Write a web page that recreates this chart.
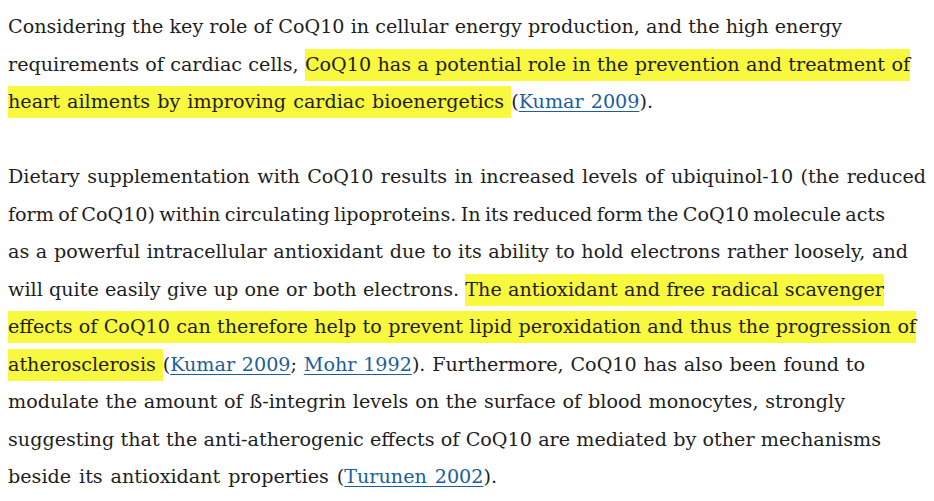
<!DOCTYPE html>
<html>
<head>
<meta charset="utf-8">
<script src="https://cdn.jsdelivr.net/npm/chart.js"></script>
<style>
  html, body { margin: 0; padding: 0; background: #fff; }
  body { width: 934px; height: 501px; overflow: hidden; position: relative; }
  #text { position: absolute; left: 8px; top: 8px; font-family: 'DejaVu Serif', serif; font-size: 18px; line-height: 37.5px; color: #1e1e1e; white-space: nowrap; }
  #text div { display: block; }
  .hl { background: #f8f83e; padding: 4px 0 5px 0; }
  a { color: #1b5e99; text-decoration: underline; text-underline-offset: 3px; }
  .gap { height: 37.5px; }
</style>
</head>
<body>
<div id="text"></div>
<script>
// text lines, in order; parts are [kind, text]
const para1 = [
  [['t', 'Considering the key role of CoQ10 in cellular energy production, and the high energy']],
  [['t', 'requirements of cardiac cells, '], ['h', 'CoQ10 has a potential role in the prevention and treatment of']],
  [['h', 'heart ailments by improving cardiac bioenergetics '], ['t', '('], ['a', 'Kumar 2009'], ['t', ').']]
]
const para2 = [
  [['t', 'Dietary supplementation with CoQ10 results in increased levels of ubiquinol-10 (the reduced']],
  [['t', 'form of CoQ10) within circulating lipoproteins. In its reduced form the CoQ10 molecule acts']],
  [['t', 'as a powerful intracellular antioxidant due to its ability to hold electrons rather loosely, and']],
  [['t', 'will quite easily give up one or both electrons. '], ['h', 'The antioxidant and free radical scavenger']],
  [['h', 'effects of CoQ10 can therefore help to prevent lipid peroxidation and thus the progression of']],
  [['h', 'atherosclerosis '], ['t', '('], ['a', 'Kumar 2009'], ['t', '; '], ['a', 'Mohr 1992'], ['t', '). Furthermore, CoQ10 has also been found to']],
  [['t', 'modulate the amount of \u00df-integrin levels on the surface of blood monocytes, strongly']],
  [['t', 'suggesting that the anti-atherogenic effects of CoQ10 are mediated by other mechanisms']],
  [['t', 'beside its antioxidant properties ('], ['a', 'Turunen 2002'], ['t', ').']]
]
// right edge of each line in the reference, used to even out word spacing
const lineEnds = [842, 910, 653, 926, 885, 908, 884, 916, 865, 845, 881, 497]

const box = document.getElementById('text')
function addLine(parts) {
  let div = document.createElement('div')
  let inner = document.createElement('span')
  parts.forEach(p => {
    let el
    if (p[0] === 'h') { el = document.createElement('span'); el.className = 'hl' }
    else if (p[0] === 'a') { el = document.createElement('a'); el.href = '#' }
    else { el = document.createElement('span') }
    el.textContent = p[1]
    inner.appendChild(el)
  })
  div.appendChild(inner)
  box.appendChild(div)
  return inner
}
const lines = []
para1.forEach(p => lines.push(addLine(p)))
let gap = document.createElement('div')
gap.className = 'gap'
box.appendChild(gap)
para2.forEach(p => lines.push(addLine(p)))

// fit font size so that the first line spans the same width as the reference
const w = lines[0].getBoundingClientRect().width
box.style.fontSize = (18 * 834 / w) + 'px'

// nudge word spacing per line so line ends sit where they do in the reference
lines.forEach((line, i) => {
  const r = line.getBoundingClientRect()
  const spaces = (line.textContent.match(/ /g) || []).length
  if (spaces > 0) {
    line.style.wordSpacing = ((lineEnds[i] - r.right) / spaces) + 'px'
  }
})
</script>
</body>
</html>
